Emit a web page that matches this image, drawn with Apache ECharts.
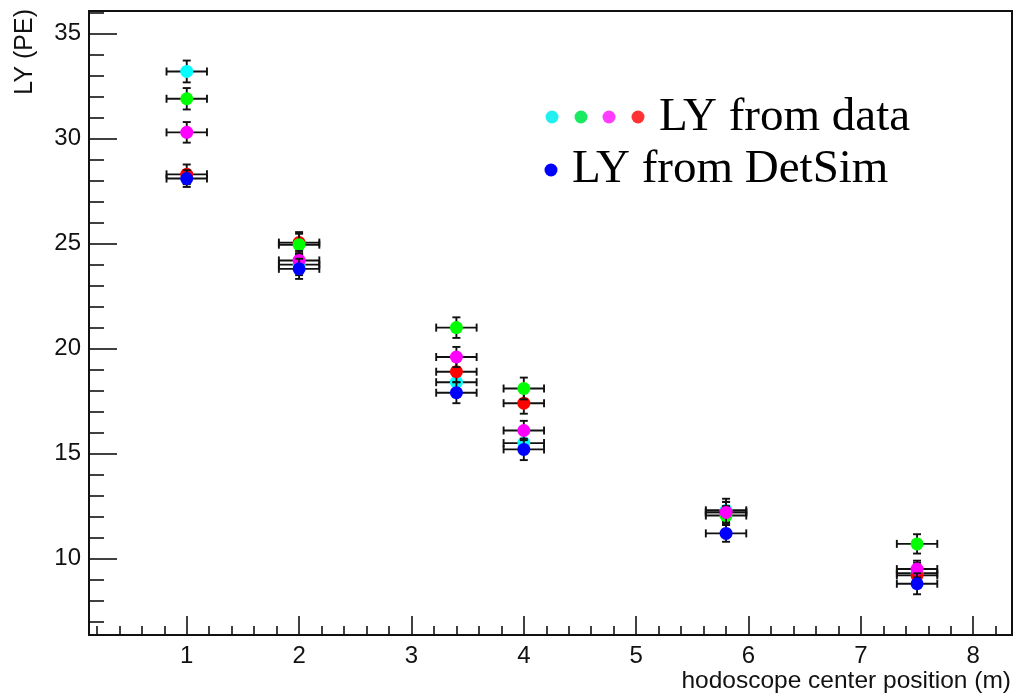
<!DOCTYPE html>
<html>
<head>
<meta charset="utf-8">
<script src="https://cdn.jsdelivr.net/npm/echarts@6/dist/echarts.min.js"></script>
<style>
html,body{margin:0;padding:0;background:#fff;}
#chart{width:1015px;height:694px;}
</style>
</head>
<body>
<div id="chart"></div>
<script>
// ---- data ----
const xPos = [1, 2, 3.4, 4, 5.8, 7.5];
const xErr = [0.18, 0.18, 0.18, 0.18, 0.18, 0.18];

const lyCyan    = [33.2, 24.0, 18.4, 15.5, 12.3, 9.3];
const errCyan   = [0.52, 0.50, 0.50, 0.50, 0.55, 0.50];
const lyRed     = [28.3, 25.05, 18.9, 17.4, 12.2, 9.2];
const errRed    = [0.47, 0.50, 0.50, 0.50, 0.50, 0.50];
const lyGreen   = [31.9, 24.95, 21.0, 18.1, 12.05, 10.7];
const errGreen  = [0.51, 0.52, 0.49, 0.52, 0.45, 0.46];
const lyMagenta = [30.3, 24.2, 19.6, 16.1, 12.2, 9.5];
const errMagenta= [0.49, 0.45, 0.48, 0.46, 0.50, 0.40];
const lyBlue    = [28.1, 23.8, 17.9, 15.2, 11.2, 8.8];
const errBlue   = [0.40, 0.48, 0.50, 0.51, 0.40, 0.50];

const xTicks = [1, 2, 3, 4, 5, 6, 7, 8];
const yTicks = [10, 15, 20, 25, 30, 35];
const xTitle = 'hodoscope center position (m)';
const yTitle = 'LY (PE)';
const legendData = 'LY from data';
const legendSim = 'LY from DetSim';

// ---- helpers ----
const xMin = 0.13, xMax = 8.345, yMin = 6.36, yMax = 36.08;
const xMinor = [], yMinor = [];
for (let v = 0.2; v < xMax; v += 0.2) {
  const r = Math.round(v * 10) / 10;
  if (Math.abs(r - Math.round(r)) > 1e-6) xMinor.push(r);
}
for (let v = 7; v <= 36; v++) { if (v % 5 !== 0) yMinor.push(v); }

function build(ys, errs) {
  return xPos.map((x, i) => [x, ys[i], xErr[i], errs[i]]);
}

const INK = '#111';
function renderErr(color) {
  return function (params, api) {
    const x = api.value(0), y = api.value(1), ex = api.value(2), ey = api.value(3);
    const c = api.coord([x, y]);
    const l = api.coord([x - ex, y]), r = api.coord([x + ex, y]);
    const t = api.coord([x, y + ey]), b = api.coord([x, y - ey]);
    const cap = 4;
    const ls = { stroke: INK, lineWidth: 1.9 };
    return {
      type: 'group',
      children: [
        { type: 'line', shape: { x1: l[0], y1: c[1], x2: r[0], y2: c[1] }, style: ls },
        { type: 'line', shape: { x1: c[0], y1: t[1], x2: c[0], y2: b[1] }, style: ls },
        { type: 'line', shape: { x1: l[0], y1: c[1] - cap, x2: l[0], y2: c[1] + cap }, style: ls },
        { type: 'line', shape: { x1: r[0], y1: c[1] - cap, x2: r[0], y2: c[1] + cap }, style: ls },
        { type: 'line', shape: { x1: c[0] - cap, y1: t[1], x2: c[0] + cap, y2: t[1] }, style: ls },
        { type: 'line', shape: { x1: c[0] - cap, y1: b[1], x2: c[0] + cap, y2: b[1] }, style: ls },
        { type: 'circle', shape: { cx: c[0], cy: c[1], r: 6.5 }, style: { fill: color } }
      ]
    };
  };
}

function errSeries(name, ys, errs, color, z) {
  return {
    name: name,
    type: 'custom',
    xAxisIndex: 0, yAxisIndex: 0,
    renderItem: renderErr(color),
    encode: { x: 0, y: 1 },
    data: build(ys, errs),
    z: z,
    silent: true,
    animation: false
  };
}

const sans = 'Liberation Sans, Arial, Helvetica, sans-serif';
const serif = 'Liberation Serif, Times New Roman, serif';

const option = {
  animation: false,
  backgroundColor: '#fff',
  grid: {
    left: 89, right: 3, top: 11, bottom: 59,
    show: true, borderColor: INK, borderWidth: 2, backgroundColor: 'transparent'
  },
  xAxis: [
    {
      type: 'value', min: xMin, max: xMax, position: 'bottom',
      axisLine: { show: false },
      splitLine: { show: false },
      axisTick: { show: true, inside: true, length: 19, customValues: xTicks, lineStyle: { color: INK, width: 1.6 } },
      axisLabel: { show: true, customValues: xTicks, margin: 9, fontSize: 24, color: INK, fontFamily: sans,
                   formatter: v => String(v) }
    },
    {
      type: 'value', min: xMin, max: xMax, position: 'bottom',
      axisLine: { show: false },
      splitLine: { show: false },
      axisTick: { show: true, inside: true, length: 9, customValues: xMinor, lineStyle: { color: INK, width: 1.6 } },
      axisLabel: { show: false }
    }
  ],
  yAxis: [
    {
      type: 'value', min: yMin, max: yMax, position: 'left',
      axisLine: { show: false },
      splitLine: { show: false },
      axisTick: { show: true, inside: true, length: 28, customValues: yTicks, lineStyle: { color: INK, width: 1.6 } },
      axisLabel: { show: true, customValues: yTicks, margin: 8, fontSize: 24, color: INK, fontFamily: sans,
                   formatter: v => String(v) }
    },
    {
      type: 'value', min: yMin, max: yMax, position: 'left',
      axisLine: { show: false },
      splitLine: { show: false },
      axisTick: { show: true, inside: true, length: 15, customValues: yMinor, lineStyle: { color: INK, width: 1.6 } },
      axisLabel: { show: false }
    }
  ],
  series: [
    errSeries('cyan', lyCyan, errCyan, '#00ffff', 2),
    errSeries('red', lyRed, errRed, '#ff0000', 3),
    errSeries('green', lyGreen, errGreen, '#00ff00', 4),
    errSeries('magenta', lyMagenta, errMagenta, '#ff00ff', 5),
    errSeries('blue', lyBlue, errBlue, '#0000ff', 6)
  ],
  graphic: [
    { type: 'text', x: 1011, y: 681, z: 10,
      style: { text: xTitle, align: 'right', verticalAlign: 'middle', fontSize: 24.5, fontFamily: sans, fill: INK } },
    { type: 'text', x: 25, y: 9, rotation: Math.PI / 2, z: 10,
      style: { text: yTitle, align: 'right', verticalAlign: 'middle', fontSize: 25, fontFamily: sans, fill: INK } },
    // legend
    { type: 'circle', shape: { cx: 552, cy: 117, r: 6.5 }, style: { fill: '#22f0f0' }, z: 10 },
    { type: 'circle', shape: { cx: 581, cy: 117, r: 6.5 }, style: { fill: '#19ea62' }, z: 10 },
    { type: 'circle', shape: { cx: 609, cy: 117, r: 6.5 }, style: { fill: '#ff3cff' }, z: 10 },
    { type: 'circle', shape: { cx: 638, cy: 117, r: 6.5 }, style: { fill: '#ff3333' }, z: 10 },
    { type: 'text', x: 659, y: 118, z: 10,
      style: { text: legendData, align: 'left', verticalAlign: 'middle', fontSize: 47, fontFamily: serif, fill: '#000' } },
    { type: 'circle', shape: { cx: 551, cy: 170, r: 6.5 }, style: { fill: '#0000ff' }, z: 10 },
    { type: 'text', x: 572, y: 170, z: 10,
      style: { text: legendSim, align: 'left', verticalAlign: 'middle', fontSize: 47, fontFamily: serif, fill: '#000' } }
  ]
};

const chart = echarts.init(document.getElementById('chart'), null, { renderer: 'canvas' });
chart.setOption(option);
</script>
</body>
</html>
